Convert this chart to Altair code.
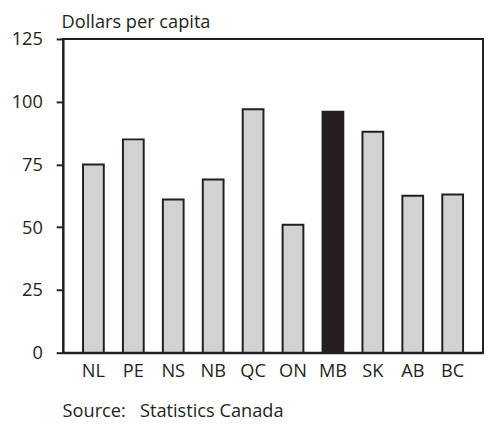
import altair as alt
import pandas as pd

provinces = ["NL", "PE", "NS", "NB", "QC", "ON", "MB", "SK", "AB", "BC"]
dollars = [75, 85, 61, 69, 97, 51, 96, 88, 62.5, 63]
highlight = ["MB"]

df = pd.DataFrame({"province": provinces, "value": dollars})
df["hl"] = df["province"].isin(highlight).map({True: "yes", False: "no"})

FONT = "Open Sans"
INK = "#231f20"
FS = 18.5

chart = alt.Chart(df).mark_bar(stroke=INK, strokeWidth=2).encode(
    x=alt.X("province:N", sort=provinces,
            scale=alt.Scale(paddingInner=0.48, paddingOuter=0.5),
            axis=alt.Axis(title="Source:\u00a0\u00a0 Statistics Canada", labelAngle=0, ticks=False,
                          labelPadding=9, domainColor=INK, domainWidth=2,
                          labelFont=FONT, labelFontSize=FS, labelColor=INK,
                          titleFont=FONT, titleFontSize=FS, titleColor=INK, titleFontWeight="normal",
                          titleAnchor="start", titleAlign="left", titleBaseline="alphabetic",
                          titleX=-1, titleY=65)),
    y=alt.Y("value:Q", scale=alt.Scale(domain=[0, 125], nice=False),
            axis=alt.Axis(title="Dollars per capita", values=[0, 25, 50, 75, 100, 125], grid=False,
                          tickSize=7, tickWidth=2, tickColor=INK, domainColor=INK, domainWidth=2,
                          labelPadding=14, labelFont=FONT, labelFontSize=FS, labelColor=INK,
                          titleFont=FONT, titleFontSize=FS, titleColor=INK, titleFontWeight="normal",
                          titleAngle=0, titleAlign="left", titleBaseline="alphabetic",
                          titleX=-2, titleY=-12)),
    fill=alt.Fill("hl:N", scale=alt.Scale(domain=["no", "yes"], range=["#d1d2d4", INK]), legend=None),
).properties(
    width=427, height=319,
    autosize=alt.AutoSizeParams(type="none"),
    padding={"left": 56, "top": 28, "right": 1, "bottom": 68},
).configure_view(stroke=INK, strokeWidth=2)

chart.save("out.html", embed_options={"renderer": "svg", "actions": False})
